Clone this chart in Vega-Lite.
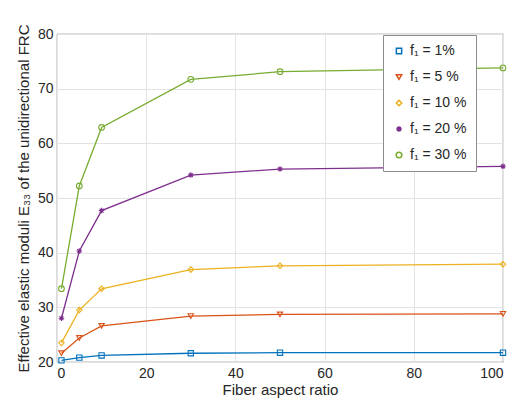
{
  "$schema": "https://vega.github.io/schema/vega-lite/v6.json",
  "autosize": "none",
  "width": 446,
  "height": 328,
  "padding": {"left": 57, "top": 34, "right": 12, "bottom": 46},
  "background": "white",
  "config": {
    "font": "Liberation Sans",
    "view": {"stroke": "#262626", "strokeWidth": 0.8}
  },
  "data": {
    "values": [
      {"x": 1, "y": 20.3, "s": "f₁ = 1%"},
      {"x": 5, "y": 20.8, "s": "f₁ = 1%"},
      {"x": 10, "y": 21.2, "s": "f₁ = 1%"},
      {"x": 30, "y": 21.6, "s": "f₁ = 1%"},
      {"x": 50, "y": 21.7, "s": "f₁ = 1%"},
      {"x": 100, "y": 21.7, "s": "f₁ = 1%"},
      {"x": 1, "y": 21.6, "s": "f₁ = 5 %"},
      {"x": 5, "y": 24.4, "s": "f₁ = 5 %"},
      {"x": 10, "y": 26.6, "s": "f₁ = 5 %"},
      {"x": 30, "y": 28.4, "s": "f₁ = 5 %"},
      {"x": 50, "y": 28.7, "s": "f₁ = 5 %"},
      {"x": 100, "y": 28.8, "s": "f₁ = 5 %"},
      {"x": 1, "y": 23.5, "s": "f₁ = 10 %"},
      {"x": 5, "y": 29.5, "s": "f₁ = 10 %"},
      {"x": 10, "y": 33.4, "s": "f₁ = 10 %"},
      {"x": 30, "y": 36.9, "s": "f₁ = 10 %"},
      {"x": 50, "y": 37.6, "s": "f₁ = 10 %"},
      {"x": 100, "y": 37.9, "s": "f₁ = 10 %"},
      {"x": 1, "y": 28.0, "s": "f₁ = 20 %"},
      {"x": 5, "y": 40.3, "s": "f₁ = 20 %"},
      {"x": 10, "y": 47.7, "s": "f₁ = 20 %"},
      {"x": 30, "y": 54.2, "s": "f₁ = 20 %"},
      {"x": 50, "y": 55.3, "s": "f₁ = 20 %"},
      {"x": 100, "y": 55.8, "s": "f₁ = 20 %"},
      {"x": 1, "y": 33.4, "s": "f₁ = 30 %"},
      {"x": 5, "y": 52.2, "s": "f₁ = 30 %"},
      {"x": 10, "y": 62.9, "s": "f₁ = 30 %"},
      {"x": 30, "y": 71.7, "s": "f₁ = 30 %"},
      {"x": 50, "y": 73.1, "s": "f₁ = 30 %"},
      {"x": 100, "y": 73.8, "s": "f₁ = 30 %"}
    ]
  },
  "encoding": {
    "x": {
      "field": "x", "type": "quantitative",
      "scale": {"domain": [0, 100], "nice": false},
      "axis": {
        "title": "Fiber aspect ratio", "titleFontSize": 15, "titleFontWeight": "normal", "titleColor": "#262626",
        "labelFontSize": 14, "labelColor": "#262626", "values": [0, 20, 40, 60, 80, 100],
        "grid": true, "gridColor": "#e3e3e3", "domain": false, "ticks": false, "labelPadding": 4, "titlePadding": 2
      }
    },
    "y": {
      "field": "y", "type": "quantitative",
      "scale": {"domain": [20, 80], "nice": false},
      "axis": {
        "title": "Effective elastic moduli E₃₃  of the unidirectional FRC", "titleFontSize": 15, "titleFontWeight": "normal", "titleColor": "#262626",
        "labelFontSize": 14, "labelColor": "#262626", "values": [20, 30, 40, 50, 60, 70, 80],
        "grid": true, "gridColor": "#e3e3e3", "domain": false, "ticks": false, "labelPadding": 4, "titlePadding": 6
      }
    },
    "color": {
      "field": "s", "type": "nominal",
      "scale": {
        "domain": ["f₁ = 1%", "f₁ = 5 %", "f₁ = 10 %", "f₁ = 20 %", "f₁ = 30 %"],
        "range": ["#0072BD", "#D95319", "#EDB120", "#7E2F8E", "#77AC30"]
      },
      "legend": {
        "title": null, "orient": "none", "legendX": 326, "legendY": 1,
        "labelFontSize": 14, "labelColor": "#262626", "rowPadding": 12,
        "strokeColor": "#8c8c8c", "fillColor": "white", "padding": 9, "symbolSize": 40
      }
    }
  },
  "layer": [
    {
      "mark": {"type": "line", "strokeWidth": 1.3}
    },
    {
      "mark": {"type": "point", "filled": false, "strokeWidth": 1.1, "opacity": 1},
      "encoding": {
        "shape": {
          "field": "s", "type": "nominal",
          "scale": {
            "domain": ["f₁ = 1%", "f₁ = 5 %", "f₁ = 10 %", "f₁ = 20 %", "f₁ = 30 %"],
            "range": ["square", "triangle-down", "diamond", "M-1,0L1,0M0,-1L0,1M-0.7,-0.7L0.7,0.7M-0.7,0.7L0.7,-0.7", "circle"]
          },
          "legend": null
        },
        "size": {
          "field": "s", "type": "nominal",
          "scale": {
            "domain": ["f₁ = 1%", "f₁ = 5 %", "f₁ = 10 %", "f₁ = 20 %", "f₁ = 30 %"],
            "range": [28, 32, 34, 45, 34]
          },
          "legend": null
        }
      }
    }
  ]
}
